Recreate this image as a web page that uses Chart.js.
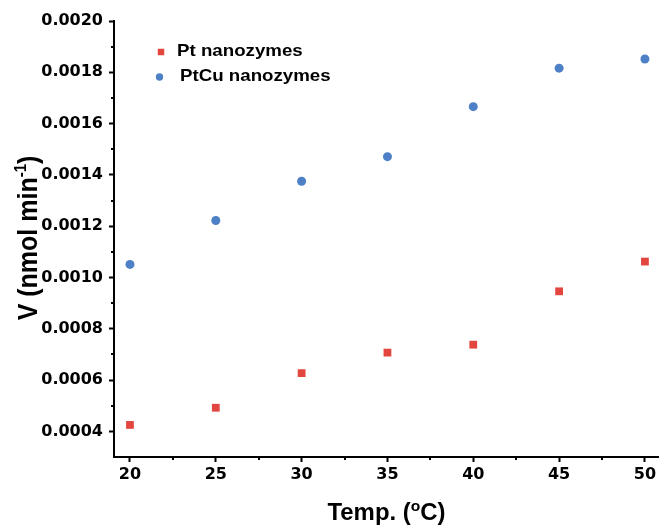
<!DOCTYPE html>
<html>
<head>
<meta charset="utf-8">
<title>Temperature dependence of nanozyme activity</title>
<script src="https://cdn.jsdelivr.net/npm/chart.js@4.4.1/dist/chart.umd.min.js"></script>
<style>
  html, body { margin: 0; padding: 0; background: #fff; }
  canvas { display: block; }
</style>
</head>
<body>
<canvas id="chart" width="659" height="528"></canvas>
<script>
// reaction temperature (°C)
const temps = [20, 25, 30, 35, 40, 45, 50];
// initial velocity, nmol/min
const ptRates = [0.000425, 0.000492, 0.000627, 0.000707, 0.000738, 0.000946, 0.001062];
const ptcuRates = [0.001051, 0.001222, 0.001375, 0.001471, 0.001666, 0.001816, 0.001852];
const seriesNames = ['Pt nanozymes', 'PtCu nanozymes'];

const xTicks = [20, 25, 30, 35, 40, 45, 50];
const yTicks = [0.0004, 0.0006, 0.0008, 0.0010, 0.0012, 0.0014, 0.0016, 0.0018, 0.0020];

const RED = '#e2463f';
const BLUE = '#4d80c6';
const FONT = "'Liberation Sans', Arial, sans-serif";
const TICK_FONT = "'DejaVu Sans', 'Liberation Sans', sans-serif";

Chart.defaults.font.family = FONT;
Chart.defaults.color = '#000';

// draw text stretched horizontally, left aligned at x
function wideText(ctx, str, x, y, sx) {
  ctx.save();
  ctx.translate(x, y);
  ctx.scale(sx, 1);
  ctx.fillText(str, 0, 0);
  ctx.restore();
  return ctx.measureText(str).width * sx;
}

// minor ticks, legend and the axis titles (with superscripts)
const decor = {
  id: 'decor',
  afterDraw(chart) {
    const ctx = chart.ctx;
    const xs = chart.scales.x, ys = chart.scales.y;
    const area = chart.chartArea;

    ctx.save();
    ctx.strokeStyle = '#000';
    ctx.lineWidth = 2;
    ctx.beginPath();
    for (let i = 0; i < xTicks.length - 1; i++) {
      const px = Math.round(xs.getPixelForValue((xTicks[i] + xTicks[i + 1]) / 2));
      ctx.moveTo(px, area.bottom);
      ctx.lineTo(px, area.bottom + 3);
    }
    for (let i = 0; i < yTicks.length - 1; i++) {
      const py = Math.round(ys.getPixelForValue((yTicks[i] + yTicks[i + 1]) / 2));
      ctx.moveTo(area.left, py);
      ctx.lineTo(area.left - 3, py);
    }
    ctx.stroke();

    // legend
    const sets = chart.data.datasets;
    const rows = [
      { mx: 161, my: 52, tx: 177, ty: 56, r: 4.6 },
      { mx: 159.5, my: 77, tx: 180, ty: 81, r: 3.7 }
    ];
    ctx.font = 'bold 17px ' + FONT;
    ctx.textBaseline = 'alphabetic';
    rows.forEach((row, i) => {
      ctx.fillStyle = sets[i].backgroundColor;
      Chart.helpers.drawPoint(ctx, { pointStyle: sets[i].pointStyle, radius: row.r, rotation: 0, borderWidth: 0 }, row.mx, row.my);
      ctx.fillStyle = '#000';
      wideText(ctx, seriesNames[i], row.tx, row.ty, 1.1);
    });

    // x title: Temp. (°C)
    ctx.fillStyle = '#000';
    const big = 'bold 23px ' + FONT, small = 'bold 15px ' + FONT;
    const sx = 1.04;
    ctx.font = big;
    const a = 'Temp. (', c = 'C)';
    const wa = ctx.measureText(a).width * sx, wc = ctx.measureText(c).width * sx;
    ctx.font = small;
    const wo = ctx.measureText('o').width * sx;
    let x = (area.left + area.right) / 2 - (wa + wo + wc) / 2;
    const base = 520;
    ctx.font = big; wideText(ctx, a, x, base, sx); x += wa;
    ctx.font = small; wideText(ctx, 'o', x, base - 9, sx); x += wo;
    ctx.font = big; wideText(ctx, c, x, base, sx);

    // y title: V (nmol min^-1)
    ctx.save();
    ctx.translate(37, 238);
    ctx.rotate(-Math.PI / 2);
    ctx.scale(1, 1.1);
    const yBig = 'bold 25px ' + FONT, ySmall = 'bold 15px ' + FONT;
    ctx.font = yBig;
    const p1 = 'V (nmol min', p3 = ')';
    const w1 = ctx.measureText(p1).width, w3 = ctx.measureText(p3).width;
    ctx.font = ySmall;
    const w2 = ctx.measureText('-1').width;
    let t = -(w1 + w2 + w3) / 2;
    ctx.font = yBig; ctx.fillText(p1, t, 0); t += w1;
    ctx.font = ySmall; ctx.fillText('-1', t, -10); t += w2;
    ctx.font = yBig; ctx.fillText(p3, t, 0);
    ctx.restore();

    ctx.restore();
  }
};

const axisLine = { color: '#000', width: 2 };
const tickMarks = { drawOnChartArea: false, drawTicks: true, tickLength: 5, tickWidth: 2, tickColor: '#000' };

new Chart(document.getElementById('chart'), {
  type: 'scatter',
  data: {
    datasets: [
      {
        label: seriesNames[0],
        data: temps.map((t, i) => ({ x: t, y: ptRates[i] })),
        pointStyle: 'rect',
        pointRadius: 5.5,
        backgroundColor: RED,
        borderWidth: 0
      },
      {
        label: seriesNames[1],
        data: temps.map((t, i) => ({ x: t, y: ptcuRates[i] })),
        pointStyle: 'circle',
        pointRadius: 4.5,
        backgroundColor: BLUE,
        borderWidth: 0
      }
    ]
  },
  options: {
    responsive: false,
    animation: false,
    layout: { autoPadding: false, padding: { top: 21, right: 0, left: 0, bottom: 0 } },
    plugins: {
      legend: { display: false },
      tooltip: { enabled: false }
    },
    scales: {
      x: {
        type: 'linear',
        min: 19.07,
        max: 50.82,
        afterBuildTicks: s => { s.ticks = xTicks.map(v => ({ value: v })); },
        // axis runs to the right edge, no room reserved for the last label
        afterFit: s => { s.height = 71; s.paddingRight = 0; s.paddingLeft = 0; },
        ticks: { font: { family: TICK_FONT, size: 16, weight: 'bold' }, color: '#000', padding: 3, maxRotation: 0, autoSkip: false },
        grid: tickMarks,
        border: axisLine
      },
      y: {
        type: 'linear',
        min: 0.0003,
        max: 0.0020,
        afterBuildTicks: s => { s.ticks = yTicks.map(v => ({ value: v })); },
        afterFit: s => { s.width = 114; s.paddingTop = 0; s.paddingBottom = 0; },
        ticks: {
          font: { family: TICK_FONT, size: 16, weight: 'bold' },
          color: '#000',
          padding: 6,
          autoSkip: false,
          callback: v => v.toFixed(4)
        },
        grid: tickMarks,
        border: axisLine
      }
    }
  },
  plugins: [decor]
});
</script>
</body>
</html>
